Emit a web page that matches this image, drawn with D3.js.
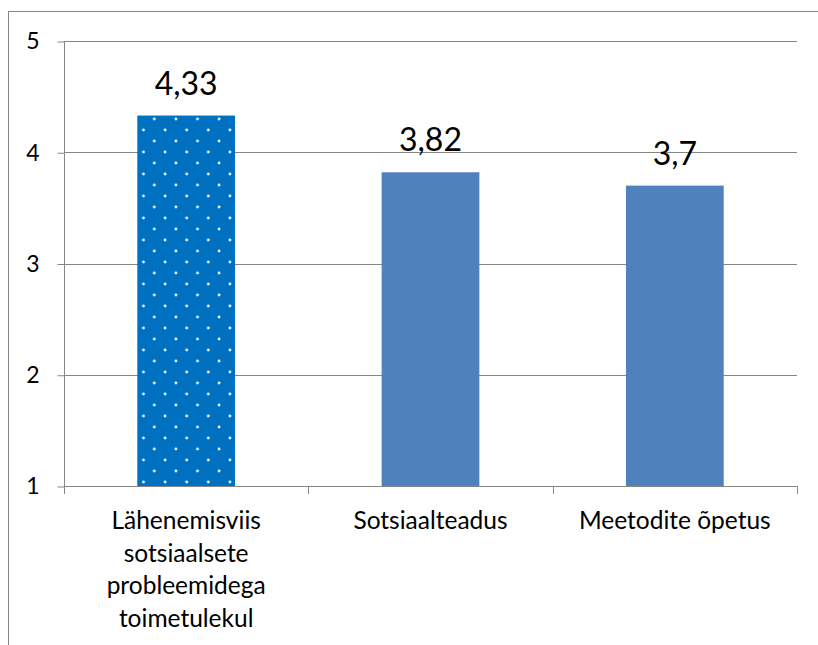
<!DOCTYPE html>
<html>
<head>
<meta charset="utf-8">
<script src="https://cdn.jsdelivr.net/npm/d3@7"></script>
<style>
  body { margin: 0; background: #fff; }
  svg { display: block; font-family: Lato, "Open Sans", sans-serif; }
</style>
</head>
<body>
<div id="chart"></div>
<script>
// chart data
const categories = ["Lähenemisviis sotsiaalsete probleemidega toimetulekul", "Sotsiaalteadus", "Meetodite õpetus"];
const labelLines = [["Lähenemisviis", "sotsiaalsete", "probleemidega", "toimetulekul"], ["Sotsiaalteadus"], ["Meetodite õpetus"]];
const values = [4.33, 3.82, 3.7];
const valueLabels = ["4,33", "3,82", "3,7"];
const yTicks = [1, 2, 3, 4, 5];

const W = 818, H = 645;
const svg = d3.select("#chart").append("svg")
  .attr("width", W)
  .attr("height", H);

// dotted fill for first bar
const defs = svg.append("defs");
const pat = defs.append("pattern")
  .attr("id", "dots")
  .attr("patternUnits", "userSpaceOnUse")
  .attr("x", 143.5).attr("y", 108)
  .attr("width", 21.6).attr("height", 22);
pat.append("rect").attr("width", 21.6).attr("height", 22).attr("fill", "#0070C0");
[[0, 0], [21.6, 0], [0, 22], [21.6, 22], [10.8, 11]].forEach(p => {
  pat.append("circle").attr("cx", p[0]).attr("cy", p[1]).attr("r", 1.4).attr("fill", "#eef6fd");
});

// outer frame (cut off at right and bottom)
svg.append("rect")
  .attr("x", 8.5).attr("y", 11.5)
  .attr("width", 1000).attr("height", 1000)
  .attr("fill", "none")
  .attr("stroke", "#868686")
  .attr("stroke-width", 1);

const x = d3.scaleBand()
  .domain(categories)
  .range([64, 797])
  .paddingInner(0.6)
  .paddingOuter(0.3);

const y = d3.scaleLinear()
  .domain([1, 5])
  .range([486, 41]);

// gridlines
svg.append("g")
  .selectAll("line")
  .data(yTicks.slice(1))
  .join("line")
  .attr("x1", 64).attr("x2", 797)
  .attr("y1", d => Math.round(y(d)) + 0.5)
  .attr("y2", d => Math.round(y(d)) + 0.5)
  .attr("stroke", "#868686");

// y axis
const yAxis = svg.append("g")
  .attr("transform", "translate(64.5,0.5)")
  .call(d3.axisLeft(y).tickValues(yTicks).tickSize(7).tickPadding(18).tickFormat(d3.format("d")));
yAxis.select(".domain").attr("stroke", "#868686").attr("d", "M0," + y(5) + "V" + y(1));
yAxis.selectAll(".tick line").attr("stroke", "#868686");
yAxis.selectAll(".tick text")
  .attr("font-family", "Lato, sans-serif")
  .attr("font-size", 23)
  .attr("fill", "#000");

// bars
svg.append("g")
  .selectAll("rect")
  .data(values)
  .join("rect")
  .attr("x", (d, i) => x(categories[i]))
  .attr("y", d => y(d))
  .attr("width", x.bandwidth())
  .attr("height", d => y(1) - y(d))
  .attr("fill", (d, i) => i === 0 ? "url(#dots)" : "#4F81BD");

// x axis line and separators
const xAxis = svg.append("g");
xAxis.append("line")
  .attr("x1", 64).attr("x2", 797.5)
  .attr("y1", Math.round(y(1)) + 0.5).attr("y2", Math.round(y(1)) + 0.5)
  .attr("stroke", "#868686");
xAxis.selectAll(".sep")
  .data(d3.range(categories.length + 1))
  .join("line")
  .attr("class", "sep")
  .attr("x1", i => Math.round(64 + i * x.step()) + 0.5)
  .attr("x2", i => Math.round(64 + i * x.step()) + 0.5)
  .attr("y1", Math.round(y(1)))
  .attr("y2", Math.round(y(1)) + 8)
  .attr("stroke", "#868686");

// category labels
const cat = svg.append("g")
  .selectAll("text")
  .data(categories)
  .join("text")
  .attr("x", d => x(d) + x.bandwidth() / 2)
  .attr("y", 529)
  .attr("text-anchor", "middle")
  .attr("font-size", 24.5)
  .attr("fill", "#000");
cat.selectAll("tspan")
  .data((d, i) => labelLines[i])
  .join("tspan")
  .attr("x", function() { return d3.select(this.parentNode).attr("x"); })
  .attr("dy", (d, i) => i === 0 ? 0 : 32.5)
  .text(d => d);

// value labels
svg.append("g")
  .selectAll("text")
  .data(values)
  .join("text")
  .attr("x", (d, i) => x(categories[i]) + x.bandwidth() / 2)
  .attr("y", d => y(d) - 21)
  .attr("text-anchor", "middle")
  .attr("font-size", 32)
  .attr("fill", "#000")
  .text((d, i) => valueLabels[i]);
</script>
</body>
</html>
